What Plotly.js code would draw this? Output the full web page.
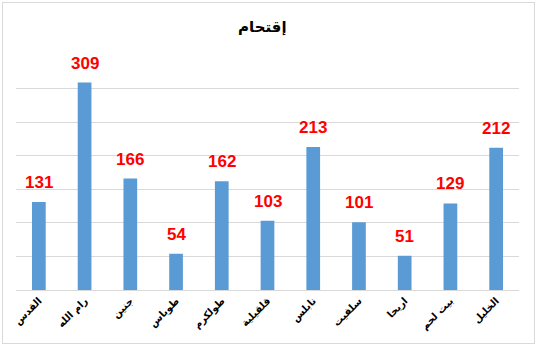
<!DOCTYPE html>
<html>
<head>
<meta charset="utf-8">
<script src="https://cdn.plot.ly/plotly-3.0.1.min.js"></script>
<style>
  html, body { margin: 0; padding: 0; background: #ffffff; }
  #wrap { position: relative; width: 543px; height: 351px; }
  #chart { width: 543px; height: 351px; }
  #frame { position: absolute; left: 2px; top: 2px; width: 531px; height: 340px; border: 1px solid #d9d9d9; pointer-events: none; }
</style>
</head>
<body>
<div id="wrap">
  <div id="chart"></div>
  <div id="frame"></div>
</div>
<script>
const chartTitle = "إقتحام";
const categories = ["القدس", "رام الله", "جنين", "طوباس", "طولكرم", "قلقيلية", "نابلس", "سلفيت", "اريحا", "بيت لحم", "الخليل"];
const values = [131, 309, 166, 54, 162, 103, 213, 101, 51, 129, 212];

const arabicFont = "DejaVu Sans, Liberation Sans, sans-serif";

const trace = {
  type: "bar",
  x: categories,
  y: values,
  marker: { color: "#5B9BD5", line: { width: 0 } },
  hoverinfo: "x+y"
};

const annotations = categories.map((c, i) => ({
  x: c,
  y: values[i],
  xref: "x",
  yref: "y",
  text: String(values[i]),
  showarrow: false,
  yanchor: "bottom",
  yshift: 8,
  font: { family: "Liberation Sans, Arial, sans-serif", size: 17, color: "#ff0000", weight: "bold" }
}));

const layout = {
  width: 543,
  height: 351,
  margin: { l: 16, r: 24, t: 55, b: 61 },
  paper_bgcolor: "#ffffff",
  plot_bgcolor: "#ffffff",
  showlegend: false,
  bargap: 0.7,
  title: {
    text: "<b>" + chartTitle + "</b>",
    font: { family: arabicFont, size: 15, color: "#000000" },
    x: 0.483,
    xanchor: "center",
    y: 0.923,
    yanchor: "middle"
  },
  xaxis: {
    type: "category",
    tickangle: -45,
    tickfont: { family: arabicFont, size: 10, color: "#000000", weight: "bold" },
    showgrid: false,
    showline: true,
    linecolor: "#d9d9d9",
    linewidth: 1,
    ticks: "",
    automargin: false
  },
  yaxis: {
    range: [0, 350],
    dtick: 50,
    showticklabels: false,
    showgrid: true,
    gridcolor: "#d9d9d9",
    gridwidth: 1,
    zeroline: false,
    showline: false,
    ticks: "",
    automargin: false
  },
  annotations: annotations
};

Plotly.newPlot("chart", [trace], layout, { displayModeBar: false, staticPlot: true });
</script>
</body>
</html>
